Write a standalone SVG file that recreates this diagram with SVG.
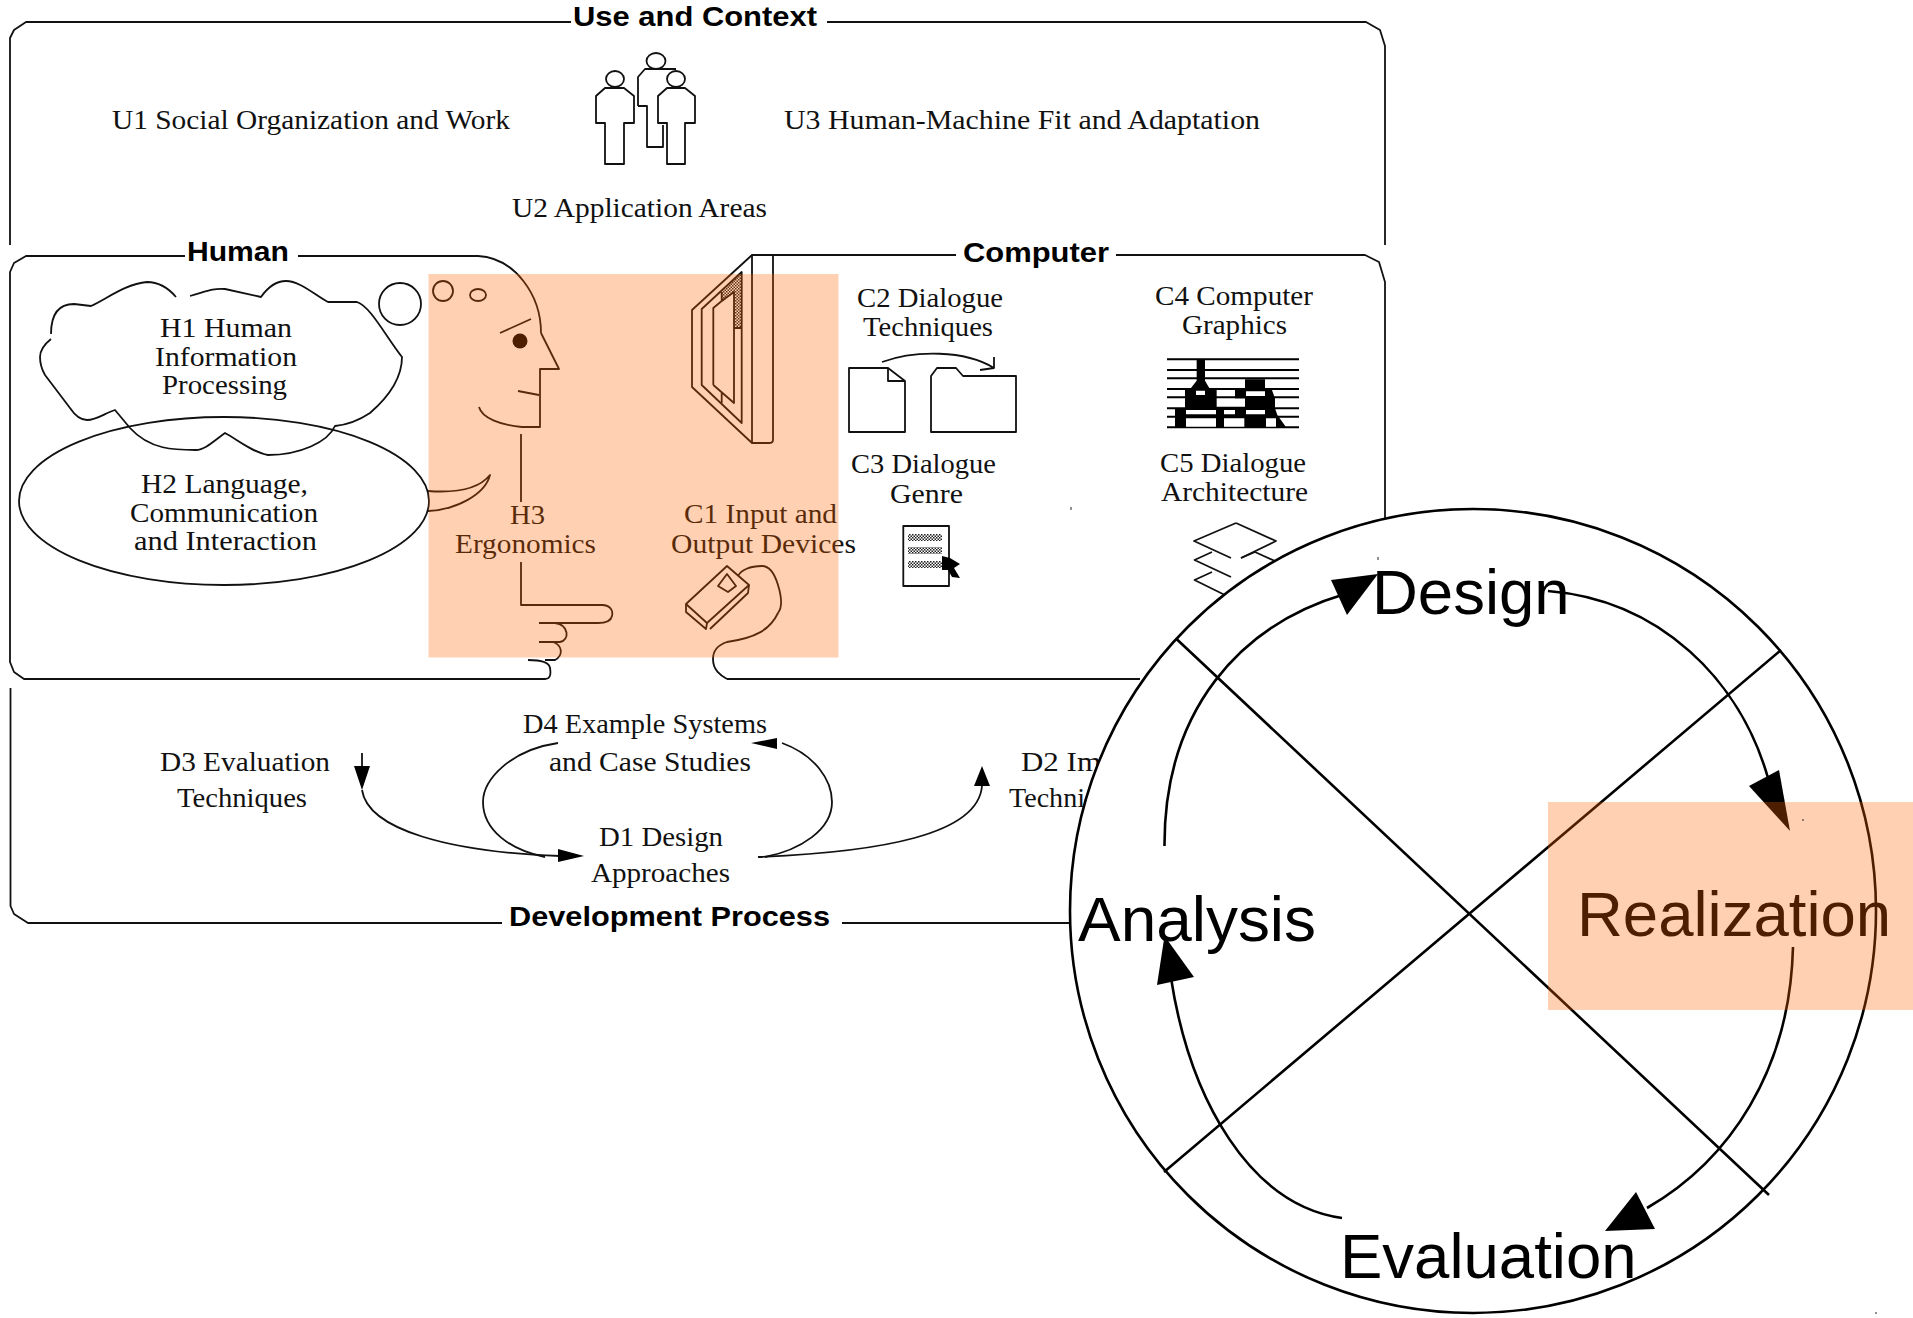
<svg xmlns="http://www.w3.org/2000/svg" width="1913" height="1318" viewBox="0 0 1913 1318">
<style>
.l{fill:none;stroke:#111;stroke-width:1.8;stroke-linejoin:round}
.w{fill:#fff;stroke:#111;stroke-width:1.8;stroke-linejoin:round}
.k{fill:#000;stroke:none}
.h{fill:url(#dots);stroke:none}
.s{font-family:"Liberation Serif",serif;font-size:27px;fill:#111}
.b{font-family:"Liberation Sans",Arial,sans-serif;font-size:28px;font-weight:700;fill:#000}
.t{font-family:"Liberation Sans",Arial,sans-serif;font-size:63.5px;fill:#000}
.c{fill:none;stroke:#000;stroke-width:2.6}
.o{fill:#ff6600;fill-opacity:.3;stroke:none}
</style>
<defs>
<pattern id="dots" width="3" height="3" patternUnits="userSpaceOnUse">
<rect width="3" height="3" fill="#fff" fill-opacity=".35"/>
<rect width="1.500" height="1.500" fill="#222"/>
<rect x="1.500" y="1.500" width="1.500" height="1.500" fill="#222"/>
</pattern>
</defs>
<rect width="1913" height="1318" fill="#fff"/>
<g id="connectors">
<path class="l" d="M10,245V38L14,30L26,22H571M827,22H1366L1380,30L1385,46V245"/>
<path class="l" d="M185,256H26L14,263L10,272V662L14,672L24,679H545Q552,679 550,668Q549,660 528,660"/>
<path class="l" d="M298,256H478C515,258 541,295 541,333"/>
<path class="l" d="M752,255H956M1116,255H1365L1379,262L1385,282V520"/>
<path class="l" d="M727,679H1140"/>
<path class="l" d="M10.500,688V906L14,914L28,923H502M842,923H1080"/>
<path class="l" d="M362,753V775M362,790C368,830 450,852 560,856"/>
<path class="l" d="M558,743C510,750 483,780 483,802C483,830 510,850 545,857"/>
<path class="l" d="M782,743C815,755 832,780 832,802C832,830 800,850 765,857"/>
<path class="l" d="M758,857C880,852 978,835 982,786"/>
<polygon class="k" points="354,766 370,766 362,790"/>
<polygon class="k" points="558,849 558,862 584,856"/>
<polygon class="k" points="751,743 777,738 777,749"/>
<polygon class="k" points="982,766 974,786 990,786"/>
</g>
<g id="use-and-context">
<text class="b" x="573" y="26" textLength="244" lengthAdjust="spacingAndGlyphs">Use and Context</text>
<text class="s" x="112" y="129" textLength="398" lengthAdjust="spacingAndGlyphs">U1 Social Organization and Work</text>
<text class="s" x="512" y="217" textLength="255" lengthAdjust="spacingAndGlyphs">U2 Application Areas</text>
<text class="s" x="784" y="129" textLength="476" lengthAdjust="spacingAndGlyphs">U3 Human-Machine Fit and Adaptation</text>
<ellipse class="l" cx="656" cy="61" rx="9.500" ry="8"/>
<path class="l" d="M638,106V77L645,69H664L676,69M638,106H647V147H663V125"/>
<ellipse class="w" cx="615" cy="79" rx="9" ry="8"/>
<path class="w" d="M605,88H624L634,96V123H624V164H605V123H596V96Z"/>
<ellipse class="w" cx="676" cy="79" rx="9" ry="8"/>
<path class="w" d="M667,88H685L695,96V123H685V164H667V123H658V96Z"/>
</g>
<g id="human">
<text class="b" x="187" y="261" textLength="102" lengthAdjust="spacingAndGlyphs">Human</text>
</g>
<g id="h1">
<path class="l" d="M51,334C51,315 58,304 74,304L91,306C105,300 125,284 147,282C160,282 170,290 176,297M190,296C205,292 212,288 225,289L261,297C268,287 276,281 286,281C300,281 316,296 328,302H357C370,306 385,335 402,357C402,380 385,400 370,413C358,421 345,425 335,426C328,442 300,455 268,455C252,452 238,440 225,433C215,440 205,450 196,450C175,450 150,450 130,428L115,410C105,413 97,420 87,420C80,420 74,414 70,408L45,375C41,368 40,362 40,357C40,350 46,343 51,339"/>
<text class="s" x="160" y="337" textLength="132" lengthAdjust="spacingAndGlyphs">H1 Human</text>
<text class="s" x="155" y="366" textLength="142" lengthAdjust="spacingAndGlyphs">Information</text>
<text class="s" x="162" y="394" textLength="125" lengthAdjust="spacingAndGlyphs">Processing</text>
<circle class="l" cx="400" cy="304" r="21"/>
<circle class="l" cx="443" cy="291" r="10"/>
<ellipse class="l" cx="478" cy="295" rx="8" ry="6"/>
</g>
<g id="h2">
<ellipse class="l" cx="224" cy="501" rx="205" ry="84"/>
<text class="s" x="141" y="493" textLength="167" lengthAdjust="spacingAndGlyphs">H2 Language,</text>
<text class="s" x="130" y="522" textLength="188" lengthAdjust="spacingAndGlyphs">Communication</text>
<text class="s" x="134" y="550" textLength="183" lengthAdjust="spacingAndGlyphs">and Interaction</text>
</g>
<g id="h3">
<path class="l" d="M541,333L559,369H540V427H522C500,425 482,418 479,407"/>
<path class="l" d="M500,333L531,319M518,391L539,395M521,434V502M521,562V605H603C612,606 613,612 612,616C611,621 606,623 598,623H539"/>
<path class="l" d="M555,623C569,625 570,640 560,642H539M553,642C562,645 564,655 555,660H545"/>
<circle class="k" cx="520" cy="341" r="7.500"/>
<path class="l" d="M428,491C455,493 478,490 490,475C485,495 455,510 428,511"/>
<text class="s" x="510" y="524" textLength="35" lengthAdjust="spacingAndGlyphs">H3</text>
<text class="s" x="455" y="553" textLength="141" lengthAdjust="spacingAndGlyphs">Ergonomics</text>
</g>
<g id="computer">
<text class="b" x="963" y="262" textLength="146" lengthAdjust="spacingAndGlyphs">Computer</text>
</g>
<g id="c1">
<path class="l" d="M752,255H773V440Q773,443 769,443H752Z"/>
<path class="l" d="M752,255L692,310V387L752,443"/>
<polygon class="h" points="721.700,292 741.700,273 741.700,328 734,328 734,292 722,302"/>
<path class="l" d="M701.700,309L741.700,272V423L701.700,385Z"/>
<path class="l" d="M713.300,385V308L721.700,301V292M721.700,301L734,292V403L713.300,385M721.700,392V403M734,328H741.700"/>
<path class="l" d="M727,566L749,585L707,623L686,604Z"/>
<path class="l" d="M686,604V612L706,629L707,623M749,585L748,593L710,629"/>
<path class="l" d="M727,574L736,586L728,592L718,586Z"/>
<path class="l" d="M738,576C741,570 750,566 762,566C770,566 775,575 778,585C782,598 782,608 778,613C770,630 755,638 727,642C718,645 713,650 713,659C713,670 720,675 727,679"/>
<text class="s" x="684" y="523" textLength="153" lengthAdjust="spacingAndGlyphs">C1 Input and</text>
<text class="s" x="671" y="553" textLength="185" lengthAdjust="spacingAndGlyphs">Output Devices</text>
</g>
<g id="c2">
<text class="s" x="857" y="307" textLength="146" lengthAdjust="spacingAndGlyphs">C2 Dialogue</text>
<text class="s" x="863" y="336" textLength="130" lengthAdjust="spacingAndGlyphs">Techniques</text>
<path class="l" d="M849,432V368H888L905,381V432Z"/>
<path class="l" d="M888,368V381H905"/>
<path class="l" d="M931,432V376L937,368H956L963,376H1016V432Z"/>
<path class="l" d="M882,362C915,350 965,350 994,368M994,357V368L980,370"/>
</g>
<g id="c3">
<text class="s" x="851" y="473" textLength="145" lengthAdjust="spacingAndGlyphs">C3 Dialogue</text>
<text class="s" x="890" y="503" textLength="73" lengthAdjust="spacingAndGlyphs">Genre</text>
<rect class="w" x="903.300" y="526" width="45.700" height="60"/>
<rect class="h" x="908" y="534" width="34" height="7"/>
<rect class="h" x="908" y="547" width="34" height="7"/>
<rect class="h" x="908" y="561" width="34" height="7"/>
<polygon class="k" points="942,556 950,558 960,564 954,568 960,578 952,577 948,570 942,570"/>
</g>
<g id="c4">
<text class="s" x="1155" y="305" textLength="158" lengthAdjust="spacingAndGlyphs">C4 Computer</text>
<text class="s" x="1182" y="334" textLength="105" lengthAdjust="spacingAndGlyphs">Graphics</text>
<path d="M1167,359.300H1299M1167,370H1299M1167,378.300H1299M1167,389H1299M1167,397.300H1299M1167,408.300H1299M1167,416.700H1299M1167,427.300H1299" stroke="#000" stroke-width="2" fill="none"/>
<g transform="translate(1160,350) scale(.3333)">
<path class="k" d="M110,28H135V92L150,118H170V170H255V88H315V118H335L345,145V175L352,195L380,234H45V175H75V118H90L110,92Z"/>
<path class="k" d="M225,118H255V145H225Z"/>
<path fill="#fff" d="M108,122H135V135H108ZM78,180H168V193H78ZM78,205H168V230H78ZM172,148H253V168H172ZM192,180H225V193H192ZM192,205H253V230H192ZM258,124H315V138H258ZM258,180H315V193H258ZM318,205H348V230H318ZM172,122H225V138H172Z"/>
</g>
</g>
<g id="c5">
<text class="s" x="1160" y="472" textLength="146" lengthAdjust="spacingAndGlyphs">C5 Dialogue</text>
<text class="s" x="1161" y="501" textLength="147" lengthAdjust="spacingAndGlyphs">Architecture</text>
<path class="l" d="M1236,523L1276,541L1241,558M1231,558L1194,541L1236,523"/>
<path class="l" d="M1212,552L1194.500,560L1231,577M1241,558L1255,552L1290,568"/>
<path class="l" d="M1212,572L1194.500,580L1235,600"/>
</g>
<g id="development-process">
<text class="b" x="509" y="926" textLength="321" lengthAdjust="spacingAndGlyphs">Development Process</text>
<text class="s" x="160" y="771" textLength="170" lengthAdjust="spacingAndGlyphs">D3 Evaluation</text>
<text class="s" x="177" y="807" textLength="130" lengthAdjust="spacingAndGlyphs">Techniques</text>
<text class="s" x="523" y="733" textLength="244" lengthAdjust="spacingAndGlyphs">D4 Example Systems</text>
<text class="s" x="549" y="771" textLength="202" lengthAdjust="spacingAndGlyphs">and Case Studies</text>
<text class="s" x="599" y="846" textLength="124" lengthAdjust="spacingAndGlyphs">D1 Design</text>
<text class="s" x="591" y="882" textLength="139" lengthAdjust="spacingAndGlyphs">Approaches</text>
<text class="s" x="1021" y="771" textLength="80" lengthAdjust="spacingAndGlyphs">D2 Im</text>
<text class="s" x="1009" y="807" textLength="76" lengthAdjust="spacingAndGlyphs">Techni</text>
</g>
<rect id="highlight-left" class="o" x="428.500" y="274" width="410" height="383.500"/>
<g id="cycle">
<ellipse cx="1473" cy="911" rx="403" ry="402" fill="#fff" stroke="#000" stroke-width="2.600"/>
<path class="c" d="M1176.500,639L1769,1195M1781,650L1164,1172"/>
<path class="c" d="M1164.500,846C1164,710 1240,625 1345,594"/>
<polygon class="k" points="1331,580 1378,574 1347,615"/>
<path class="c" d="M1548,591C1660,600 1740,680 1768,778"/>
<polygon class="k" points="1749,786 1779,770 1790,831"/>
<path class="c" d="M1793,947C1790,1070 1730,1160 1647,1208"/>
<polygon class="k" points="1636,1192 1655,1229 1605,1231"/>
<path class="c" d="M1342,1218C1250,1205 1190,1100 1171,978"/>
<polygon class="k" points="1164.500,936 1194,977 1157,985"/>
</g>
<g id="design"><text class="t" x="1372" y="614">Design</text></g>
<g id="analysis"><text class="t" x="1078" y="941" textLength="238" lengthAdjust="spacingAndGlyphs">Analysis</text></g>
<g id="realization"><text class="t" x="1577" y="936">Realization</text></g>
<g id="evaluation"><text class="t" x="1340" y="1278">Evaluation</text></g>
<rect id="highlight-right" class="o" x="1548" y="802" width="365" height="208"/>
<path id="specks" d="M1071,507V510M1378,557V560M1803,819V821M1876,1312V1314" stroke="#222" stroke-width="1"/>
</svg>
